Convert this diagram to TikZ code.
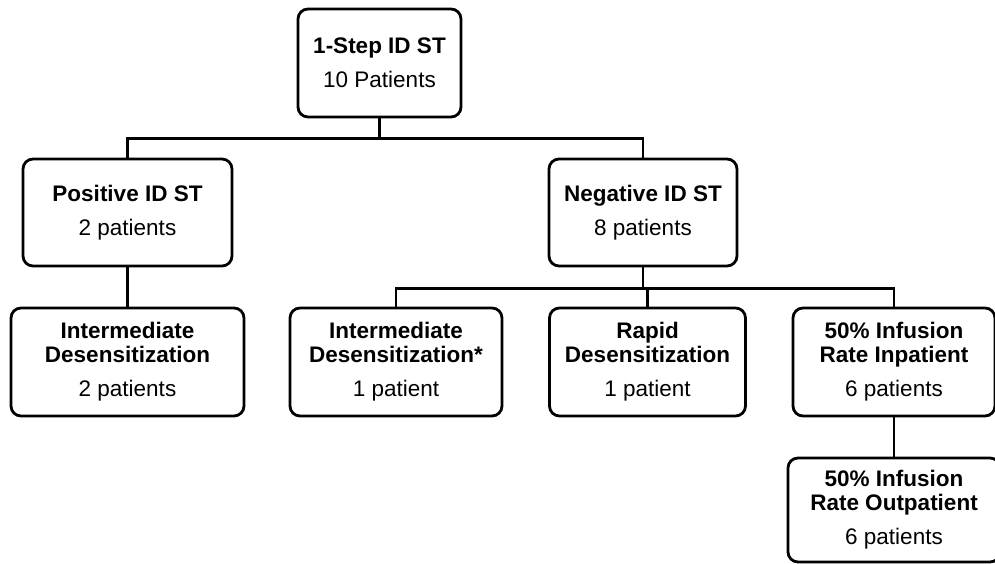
\documentclass[tikz,border=0pt]{standalone}
\usepackage{fontspec}
\setmainfont{Liberation Sans}
\usetikzlibrary{calc}
\begin{document}
\begin{tikzpicture}[x=1pt,y=-1pt,
  box/.style={draw=black, line width=2.8pt, rounded corners=10pt, fill=white,
    inner sep=0pt, align=center, font=\fontsize{22.5}{24}\selectfont},
  conn/.style={draw=black, line width=2.4pt}]
\useasboundingbox (0,0) rectangle (995,564);
\clip (0,0) rectangle (995,564);
\fill[white] (0,0) rectangle (995,564);
\node[box, minimum width=163pt, minimum height=108pt] (top) at (379.5,63)
  {\textbf{1-Step ID ST}\\[10pt]10 Patients};
\node[box, minimum width=209pt, minimum height=107pt] (pos) at (127.5,212.5)
  {\textbf{Positive ID ST}\\[10pt]2 patients};
\node[box, minimum width=188pt, minimum height=107pt] (neg) at (643,212.5)
  {\textbf{Negative ID ST}\\[10pt]8 patients};
\node[box, minimum width=233pt, minimum height=108pt] (int1) at (127.5,362)
  {\textbf{Intermediate}\\\textbf{Desensitization}\\[10pt]2 patients};
\node[box, minimum width=212pt, minimum height=108pt] (int2) at (396,362)
  {\textbf{Intermediate}\\\textbf{Desensitization*}\\[10pt]1 patient};
\node[box, minimum width=196pt, minimum height=108pt] (rapid) at (647.5,362)
  {\textbf{Rapid}\\\textbf{Desensitization}\\[10pt]1 patient};
\node[box, minimum width=202pt, minimum height=108pt] (inpat) at (894,362)
  {\textbf{50\% Infusion}\\\textbf{Rate Inpatient}\\[10pt]6 patients};
\node[box, minimum width=212pt, minimum height=104pt] (outpat) at (894,510)
  {\textbf{50\% Infusion}\\\textbf{Rate Outpatient}\\[10pt]6 patients};
\coordinate (j1) at ($(top.south)+(0,20)$);
\draw[conn] (top.south) -- (j1) -| (pos.north);
\draw[conn] (j1) -| (neg.north);
\coordinate (j2) at ($(neg.south)+(0,21)$);
\draw[conn] (neg.south) -- (j2) -| (int2.north);
\draw[conn] (j2) -| (rapid.north);
\draw[conn] (j2) -| (inpat.north);
\draw[conn] (pos.south) -- (int1.north);
\draw[conn] (inpat.south) -- (outpat.north);
\end{tikzpicture}
\end{document}
